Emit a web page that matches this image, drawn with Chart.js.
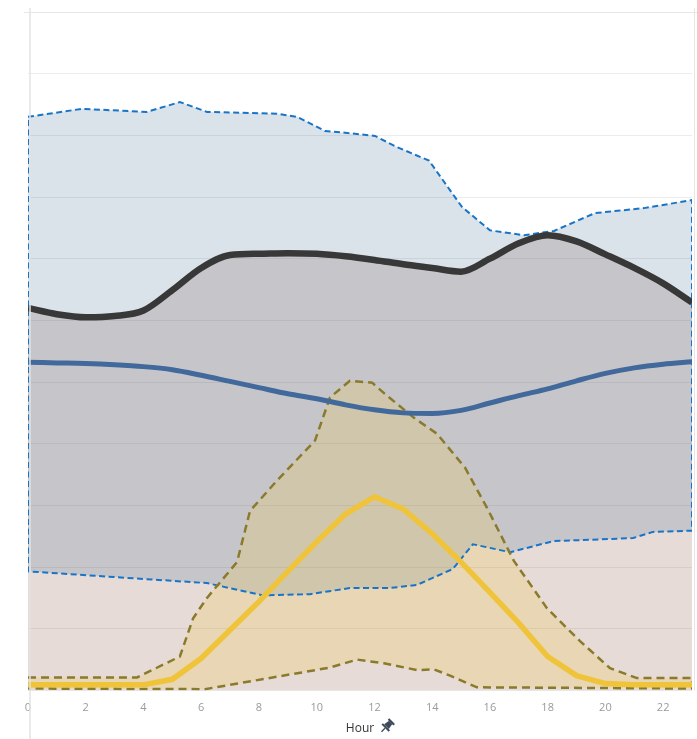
<!doctype html>
<html lang="en">
<head>
<meta charset="utf-8">
<script src="https://cdn.jsdelivr.net/npm/chart.js"></script>
<style>
  html, body { margin: 0; padding: 0; background: #fff; }
  .chart-box { width: 697px; height: 739px; }
</style>
</head>
<body>
<div class="chart-box"><canvas id="hour-chart"></canvas></div>
<script>
// hourly series
var hours = [0, 1, 2, 3, 4, 5, 6, 7, 8, 9, 10, 11, 12, 13, 14, 15, 16, 17, 18, 19, 20, 21, 22, 23];
var darkVals  = [62.0, 61.0, 60.5, 60.7, 61.6, 64.9, 68.5, 70.6, 70.8, 70.9, 70.8, 70.4, 69.8, 69.1, 68.5, 67.9, 70.0, 72.5, 73.8, 72.8, 70.7, 68.5, 66.0, 62.9];
var steelVals = [53.2, 53.1, 53.0, 52.8, 52.5, 52.0, 51.1, 50.1, 49.1, 48.1, 47.3, 46.3, 45.5, 45.0, 44.9, 45.4, 46.6, 47.8, 48.9, 50.2, 51.4, 52.3, 52.9, 53.3];
var sunVals   = [0.9, 0.9, 0.9, 0.9, 0.9, 1.8, 5.2, 9.8, 14.4, 19.3, 24.1, 28.6, 31.4, 29.4, 25.4, 20.8, 15.9, 10.9, 5.5, 2.4, 1.1, 0.9, 0.9, 0.9];

// blue range (dashed band)
var blueHiX = [0, 1.87, 4.12, 5.26, 6.2, 8.62, 9.32, 10.29, 11.05, 12.02, 12.78, 13.89, 15.03, 16.0, 17.18, 18.22, 19.64, 21.34, 23];
var blueHiY = [93.0, 94.3, 93.8, 95.4, 93.8, 93.5, 93.0, 90.7, 90.4, 89.9, 88.1, 85.9, 78.4, 74.6, 73.8, 74.5, 77.4, 78.2, 79.5];
var blueLoX = [0, 6.2, 8.14, 9.77, 11.15, 12.54, 13.47, 14.72, 15.41, 16.7, 18.19, 20.96, 21.65, 23];
var blueLoY = [19.3, 17.4, 15.4, 15.6, 16.6, 16.6, 17.1, 19.7, 23.7, 22.4, 24.2, 24.7, 25.7, 25.9];

// yellow range (dashed band)
var sunHiX = [0, 3.78, 5.26, 5.72, 6.2, 7.24, 7.69, 8.62, 9.94, 10.46, 11.15, 11.92, 12.43, 13.37, 14.17, 15.14, 15.9, 16.83, 17.98, 19.12, 20.16, 21.09, 23];
var sunHiY = [2.1, 2.1, 5.5, 11.7, 15.0, 20.8, 29.1, 34.0, 40.5, 47.5, 50.2, 49.9, 47.8, 44.2, 41.6, 36.1, 29.6, 21.0, 13.3, 8.0, 3.6, 2.0, 2.0];
var sunLoX = [0, 6.13, 10.46, 11.4, 12.33, 13.47, 14.06, 14.62, 15.55, 23];
var sunLoY = [0.3, 0.2, 3.7, 5.0, 4.4, 3.3, 3.4, 2.4, 0.5, 0.3];

var xTicks = [0, 2, 4, 6, 8, 10, 12, 14, 16, 18, 20, 22];

function pts(xs, ys) {
	return xs.map(function(x, i) { return {x: x, y: ys[i]}; });
}
// closed outline: upper edge left->right, lower edge right->left, back to start
function band(hx, hy, lx, ly) {
	var up = pts(hx, hy);
	var lo = pts(lx, ly).reverse();
	return up.concat(lo, [up[0]]);
}

// frame lines + pin next to axis title
var framePlugin = {
	id: 'frame',
	afterDraw: function(chart) {
		var c = chart.ctx, a = chart.chartArea;
		c.save();
		c.strokeStyle = '#e3e3e3';
		c.lineWidth = 1.5;
		c.beginPath();
		c.moveTo(a.left + 2, 8); c.lineTo(a.left + 2, chart.height);
		c.stroke();
		c.strokeStyle = '#e6e6e6';
		c.lineWidth = 1;
		c.beginPath();
		c.moveTo(a.left - 4, a.top + 0.5); c.lineTo(chart.width, a.top + 0.5);
		c.moveTo(a.right + 2.5, 8); c.lineTo(a.right + 2.5, a.bottom);
		c.stroke();

		// pin icon
		var xs = chart.scales.x;
		c.font = '12px "Open Sans"';
		var w = c.measureText('Hour').width;
		var px = (a.left + a.right) / 2 + w / 2 + 13, py = xs.bottom - 10;
		c.translate(px, py);
		c.rotate(Math.PI / 4);
		c.fillStyle = '#3e4a5c';
		c.strokeStyle = '#3e4a5c';
		c.fillRect(-4, -7, 8, 2.2);
		c.beginPath();
		c.moveTo(-2.3, -5); c.lineTo(2.3, -5); c.lineTo(3.3, 1); c.lineTo(-3.3, 1);
		c.closePath(); c.fill();
		c.fillRect(-5, 1, 10, 2);
		c.lineWidth = 1.4;
		c.beginPath(); c.moveTo(0, 3); c.lineTo(0, 8); c.stroke();
		c.restore();
	}
};

var ctx = document.getElementById('hour-chart').getContext('2d');
var hourChart = new Chart(ctx, {
	type: 'line',
	data: {
		datasets: [{
			label: 'sun',
			data: pts(hours, sunVals),
			borderColor: '#f0c43a',
			borderWidth: 5.5,
			tension: 0,
			fill: false
		}, {
			label: 'steel',
			data: pts(hours, steelVals),
			borderColor: '#41699b',
			borderWidth: 5,
			cubicInterpolationMode: 'monotone',
			fill: false
		}, {
			label: 'dark',
			data: pts(hours, darkVals),
			borderColor: '#383838',
			borderWidth: 6.5,
			cubicInterpolationMode: 'monotone',
			fill: false
		}, {
			label: 'sun range',
			data: band(sunHiX, sunHiY, sunLoX, sunLoY),
			borderColor: '#8a7a2c',
			borderWidth: 2.5,
			borderDash: [8, 5],
			tension: 0,
			fill: 'shape',
			backgroundColor: 'rgba(240, 196, 58, 0.21)'
		}, {
			label: 'blue range',
			data: band(blueHiX, blueHiY, blueLoX, blueLoY),
			borderColor: '#1874c8',
			borderWidth: 2,
			borderDash: [6, 3.5],
			tension: 0,
			fill: 'shape',
			backgroundColor: 'rgba(70, 110, 150, 0.2)'
		}, {
			label: 'dark area',
			data: pts(hours, darkVals),
			borderWidth: 0,
			cubicInterpolationMode: 'monotone',
			fill: 'origin',
			backgroundColor: 'rgba(140, 90, 70, 0.22)'
		}]
	},
	options: {
		responsive: true,
		maintainAspectRatio: false,
		animation: false,
		layout: { padding: { left: 28, right: 5, top: 12, bottom: 3 } },
		elements: { point: { radius: 0, hoverRadius: 0 } },
		plugins: {
			legend: { display: false },
			tooltip: { enabled: false },
			filler: { drawTime: 'beforeDatasetsDraw' }
		},
		scales: {
			x: {
				type: 'linear',
				min: 0,
				max: 23,
				afterBuildTicks: function(scale) {
					scale.ticks = xTicks.map(function(v) { return {value: v}; });
				},
				ticks: {
					color: '#9a9a9a',
					font: { family: 'Open Sans', size: 11 },
					padding: 3,
					maxRotation: 0
				},
				grid: { display: false },
				border: { display: false },
				title: {
					display: true,
					text: 'Hour',
					color: '#333',
					font: { family: 'Open Sans', size: 12 },
					padding: { top: 4, bottom: 0 }
				}
			},
			y: {
				min: 0,
				max: 110,
				ticks: { display: false, stepSize: 10 },
				grid: { color: '#ececec', drawTicks: false },
				border: { display: false }
			}
		}
	},
	plugins: [framePlugin]
});
</script>
</body>
</html>
